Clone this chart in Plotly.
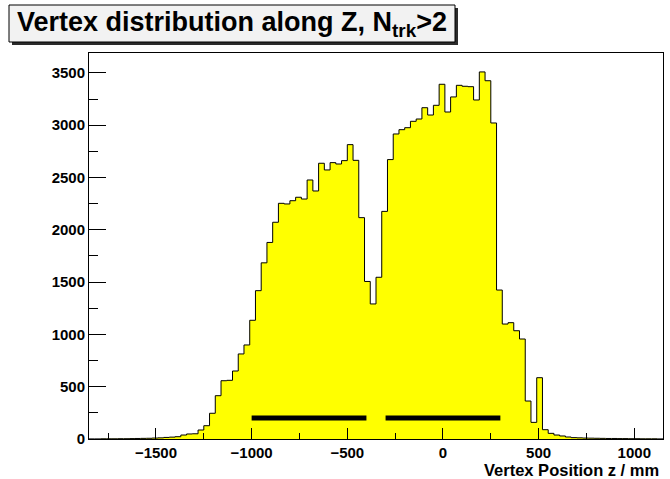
import numpy as np
import plotly.graph_objects as go

# Histogram definition: 100 bins of 30 mm from -1850 mm
z_low = -1850
bin_width = 30
counts = [
    1, 1, 2, 2, 2, 3, 3, 4, 5, 6, 7, 9, 11,
    15, 18, 22, 38, 48, 50, 86, 127, 246, 414, 557, 561, 650, 813, 899,
    1135, 1418, 1684, 1879, 2072, 2253, 2247, 2278, 2311, 2294, 2476, 2371,
    2636, 2572, 2642, 2629, 2661, 2814, 2664, 2116, 1506, 1291, 1546, 2176,
    2671, 2916, 2957, 2976, 3037, 3059, 3167, 3097, 3190, 3391, 3126, 3270,
    3381, 3372, 3368, 3241, 3509, 3425, 3021, 1424, 1099, 1112, 1035, 956,
    363, 159, 586, 89, 54, 38, 29, 19, 13,
    11, 9, 8, 7, 6, 5, 5, 4, 4, 3, 3, 2, 2, 2, 1,
]

# Fiducial regions drawn as thick bars
region_starts = [-1000, -300]
region_ends = [-400, 300]
region_level = 200

x_ticks = [-1500, -1000, -500, 0, 500, 1000]
y_ticks = [0, 500, 1000, 1500, 2000, 2500, 3000, 3500]

title_text = "<b>Vertex distribution along Z, N<sub>trk</sub>>2</b>"
x_title = "<b>Vertex Position z / mm</b>"

edges = z_low + bin_width * np.arange(len(counts) + 1)
step_x = np.concatenate([[edges[0]], edges, [edges[-1]]])
step_y = np.concatenate([[0], counts, [counts[-1]], [0]])

W, H = 670, 479
ML, MR, MT, MB = 89, 7, 53, 40
PW, PH = W - ML - MR, H - MT - MB


def px(x):
    return (x - ML) / PW


def py(y):
    return (H - MB - y) / PH


fig = go.Figure()
fig.add_trace(go.Scatter(
    x=step_x, y=step_y, mode="lines", line_shape="hv",
    line=dict(color="black", width=1), fill="tozeroy",
    fillcolor="#ffff00", hoverinfo="skip", showlegend=False,
))
for a, b in zip(region_starts, region_ends):
    fig.add_trace(go.Scatter(
        x=[a, b], y=[region_level, region_level], mode="lines",
        line=dict(color="black", width=5), showlegend=False,
    ))

axis_font = dict(family="Liberation Sans, Arial", size=15, color="black", weight="bold")

fig.update_layout(
    width=W, height=H,
    margin=dict(l=ML, r=MR, t=MT, b=MB),
    paper_bgcolor="white", plot_bgcolor="white",
    xaxis=dict(
        range=[edges[0], edges[-1]], tickvals=x_ticks, ticks="inside",
        ticklen=11, tickcolor="black", showgrid=False, zeroline=False,
        showline=True, linecolor="black", linewidth=1, mirror=True,
        tickfont=axis_font, ticklabelstandoff=0,
        minor=dict(dtick=250, tick0=0, ticks="inside", ticklen=6, tickcolor="black"),
    ),
    yaxis=dict(
        range=[0, 3690], tickvals=y_ticks, ticks="inside",
        ticklen=17, tickcolor="black", showgrid=False, zeroline=False,
        showline=True, linecolor="black", linewidth=1, mirror=True,
        tickfont=axis_font,
        minor=dict(dtick=250, tick0=0, ticks="inside", ticklen=9, tickcolor="black"),
    ),
)

# Title box with drop shadow
bx0, by0, bx1, by1 = 9, 5, 455, 42
fig.add_shape(type="rect", xref="paper", yref="paper",
              x0=px(bx0 + 3), x1=px(bx1 + 3), y0=py(by0 + 3), y1=py(by1 + 3),
              fillcolor="#2b2b2b", line=dict(width=0), layer="above")
fig.add_shape(type="rect", xref="paper", yref="paper",
              x0=px(bx0), x1=px(bx1), y0=py(by0), y1=py(by1),
              fillcolor="#f2f2f2", line=dict(color="black", width=1), layer="above")
fig.add_annotation(text=title_text, xref="paper", yref="paper",
                   x=px((bx0 + bx1) / 2), y=py((by0 + by1) / 2 + 1),
                   xanchor="center", yanchor="middle", showarrow=False,
                   font=dict(family="Liberation Sans, Arial", size=27, color="black"))

fig.add_annotation(text=x_title, xref="paper", yref="paper",
                   x=px(661), y=py(470), xanchor="right", yanchor="middle",
                   showarrow=False,
                   font=dict(family="Liberation Sans, Arial", size=16.5, color="black"))

fig.write_html("out.html")
